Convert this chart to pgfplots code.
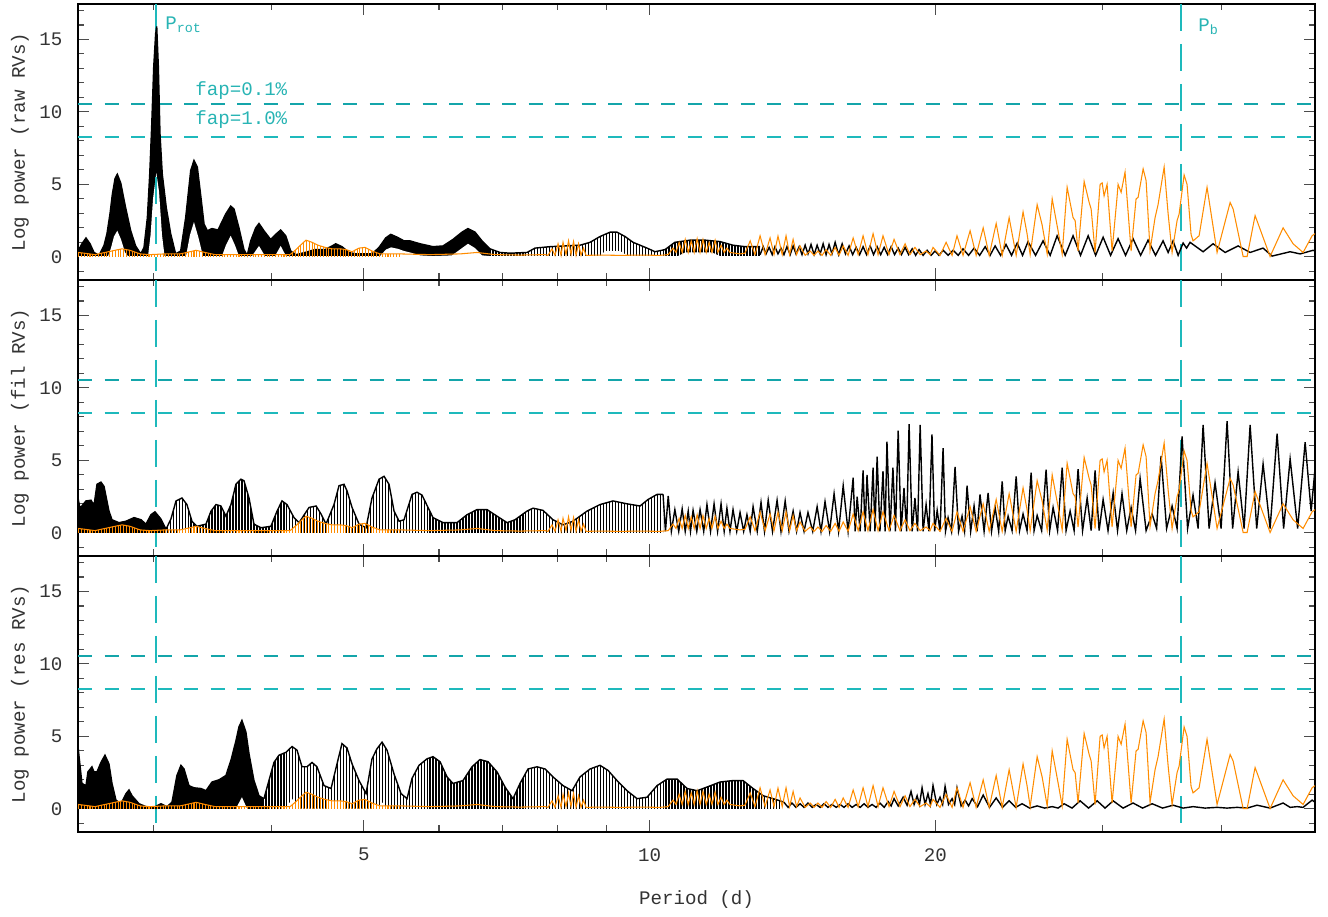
\documentclass[border=0pt]{standalone}
\usepackage{fontspec}
\setmainfont{Liberation Mono}
\usepackage{pgfplots}
\usepackage{pgfplotstable}
\pgfplotsset{compat=1.18}
\usetikzlibrary{patterns.meta}

\definecolor{ora}{RGB}{255,140,0}
\definecolor{fapdark}{RGB}{20,165,170}
\definecolor{faplight}{RGB}{30,185,188}
\definecolor{labcyan}{RGB}{40,180,180}
\newcommand{\pf}{\fontsize{10.9}{13}\selectfont}

% ---- orange periodogram (same in all three panels)
\pgfplotstableread{
x y
2.500 0.3
2.537 0.25
2.605 0.15
2.669 0.3
2.735 0.45
2.782 0.55
2.836 0.45
2.906 0.2
2.977 0.15
3.087 0.2
3.202 0.2
3.280 0.35
3.328 0.45
3.402 0.3
3.485 0.15
3.794 0.15
4.181 0.15
4.242 0.5
4.304 0.9
4.346 1.15
4.410 1.0
4.474 0.8
4.551 0.65
4.629 0.55
4.719 0.55
4.789 0.5
4.859 0.35
4.942 0.6
5.015 0.65
5.100 0.4
5.200 0.2
5.459 0.2
}\oBandHi
\pgfplotstableread{
x y
5.459 0.2
5.871 0.15
6.314 0.2
6.579 0.3
6.873 0.15
7.303 0.12
7.759 0.15
7.816 0.1
7.892 0.55
7.949 0.1
8.008 0.9
8.066 0.1
8.105 1.0
8.164 0.15
8.214 1.1
8.264 0.15
8.314 1.05
8.365 0.1
8.416 0.9
8.467 0.1
8.518 0.6
8.570 0.1
8.866 0.12
9.307 0.1
9.769 0.12
10.25 0.1
10.46 0.15
10.58 0.6
10.66 0.3
10.74 1.0
10.82 0.3
10.90 1.2
10.98 0.3
11.06 1.1
11.14 0.3
11.22 1.25
11.30 0.3
11.38 1.2
11.47 0.3
11.55 1.0
11.63 0.3
11.72 1.15
11.80 0.3
11.89 0.8
11.98 0.3
12.06 0.6
12.15 0.3
12.45 0.2
12.60 0.25
12.76 1.1
12.91 0.15
13.07 1.45
13.23 0.15
13.39 1.3
13.52 0.15
13.65 1.43
13.79 0.15
13.92 1.45
14.04 0.15
14.16 1.2
14.28 0.15
14.40 0.75
14.58 0.1
14.76 0.4
14.90 0.1
15.04 0.4
15.19 0.1
15.34 0.5
15.51 0.1
15.68 0.65
15.83 0.1
15.99 0.75
16.18 0.1
16.38 1.3
16.58 0.15
16.78 1.45
16.98 0.15
17.19 1.6
17.40 0.15
17.61 1.45
17.87 0.15
18.09 1.2
18.35 0.15
18.58 0.9
18.80 0.15
19.03 0.65
19.27 0.15
19.55 0.4
19.74 0.15
19.88 0.65
20.22 0.1
20.52 1.0
20.82 0.1
21.07 1.45
21.38 0.1
21.75 1.8
22.07 0.1
22.45 2.0
22.78 0.1
23.17 2.3
23.51 0.1
23.91 2.7
24.32 0.1
24.73 3.1
24.97 1.6
25.16 0.15
25.59 3.6
25.90 2.2
26.22 0.2
26.54 4.0
26.92 1.8
27.19 0.2
27.52 4.8
27.92 2.7
28.06 2.5
28.26 0.4
28.68 5.2
29.03 3.75
29.17 3.3
29.45 0.3
29.81 5.0
29.96 5.1
30.10 4.2
30.32 5.0
30.69 0.4
31.06 4.1
31.14 5.0
31.37 4.45
31.67 5.85
32.14 0.4
32.53 4.0
32.69 4.1
33.09 6.07
33.33 5.25
33.65 0.45
34.06 2.7
34.31 3.6
34.82 6.2
35.16 2.95
35.50 0.3
35.93 2.5
36.11 2.95
36.55 5.65
36.81 5.0
37.17 1.55
37.35 1.1
37.90 1.45
38.64 4.8
39.59 0.3
40.86 3.75
41.16 3.3
42.17 0.02
42.58 0.02
43.41 2.85
45.02 0.02
46.46 2.0
47.60 0.9
48.77 0.3
49.85 1.45
50.20 1.6
}\oLine

% ---- panel 1 (raw RVs), black: upper envelope of the unresolved part, its gaps, resolved part
\pgfplotstableread{
x y
2.500 0.4
2.524 0.9
2.549 1.3
2.574 0.9
2.599 0.3
2.631 0.1
2.663 0.8
2.682 1.6
2.702 3.0
2.717 4.3
2.735 5.4
2.750 5.7
2.773 5.1
2.806 3.4
2.841 1.8
2.875 0.75
2.911 0.2
2.934 0.65
2.958 2.7
2.975 5.7
2.989 9.0
3.004 13.1
3.018 15.4
3.026 15.9
3.038 13.1
3.050 8.5
3.067 5.7
3.097 3.4
3.130 1.6
3.168 0.2
3.207 0.4
3.246 2.7
3.286 5.95
3.312 6.65
3.339 6.2
3.366 4.3
3.394 2.25
3.421 1.8
3.460 1.95
3.511 1.85
3.577 2.95
3.621 3.5
3.650 3.3
3.694 2.0
3.739 0.5
3.769 0.1
3.801 1.1
3.847 2.0
3.878 2.3
3.925 1.8
3.989 1.2
4.038 1.55
4.087 1.85
4.137 1.45
4.188 0.4
4.242 0.15
4.335 0.3
4.442 0.5
4.551 0.5
4.629 0.75
4.670 0.9
4.742 0.7
4.824 0.3
4.906 0.2
5.100 0.2
5.188 0.65
5.272 1.3
5.337 1.55
5.423 1.35
5.512 1.1
5.593 1.1
5.730 0.9
5.913 0.7
6.059 0.75
6.207 1.2
6.344 1.7
6.437 1.95
6.548 1.7
6.660 1.1
6.790 0.55
}\bOneHi
\pgfplotstableread{
x y
2.500 0.05
2.689 0.05
2.708 0.6
2.728 1.4
2.750 1.8
2.775 1.2
2.802 0.3
2.822 0.05
2.963 0.05
2.981 1.5
2.999 4.0
3.023 5.8
3.043 4.5
3.065 1.5
3.084 0.05
3.249 0.05
3.280 1.5
3.312 2.4
3.349 1.3
3.385 0.05
3.545 0.05
3.579 0.8
3.621 1.45
3.658 0.8
3.694 0.05
3.812 0.05
3.878 0.75
3.935 0.05
4.031 0.05
4.087 0.75
4.140 0.05
5.200 0.05
5.276 0.5
5.341 0.65
5.432 0.55
5.512 0.4
5.593 0.3
5.730 0.1
5.913 0.05
6.192 0.1
6.344 0.6
6.437 0.9
6.548 0.6
6.660 0.1
6.790 0.05
}\bOneLo
\pgfplotstableread{
x y
6.790 0.55
6.957 0.3
7.128 0.25
7.428 0.3
7.573 0.6
7.854 0.7
8.145 0.75
8.446 0.8
8.654 1.0
8.866 1.4
9.084 1.7
9.239 1.7
9.420 1.4
9.605 1.0
9.937 0.6
10.13 0.35
10.38 0.5
10.63 1.0
11.03 1.15
11.44 1.15
11.86 1.05
12.24 0.8
12.60 0.7
13.07 0.7
}\gOneHi
\pgfplotstableread{
x y
6.790 0.05
8.866 0.05
8.974 0.4
9.307 0.4
9.489 0.05
10.71 0.05
10.90 0.3
11.63 0.3
11.86 0.05
13.07 0.05
}\gOneLo
\pgfplotstableread{
x y
13.07 0.15
13.17 0.7
13.26 0.2
13.36 0.65
13.46 0.15
13.55 0.7
13.65 0.2
13.75 0.6
13.85 0.15
13.95 0.7
14.06 0.15
14.16 0.75
14.26 0.2
14.37 0.7
14.47 0.15
14.58 0.8
14.68 0.2
14.79 0.85
14.90 0.15
15.01 0.8
15.12 0.2
15.23 0.9
15.34 0.15
15.45 0.85
15.56 0.2
15.68 1.0
15.81 0.15
15.95 0.9
16.08 0.2
16.22 0.75
16.36 0.15
16.50 0.65
16.64 0.15
16.78 0.7
16.92 0.15
17.07 0.75
17.21 0.15
17.36 0.7
17.51 0.15
17.66 0.65
17.81 0.15
17.96 0.7
18.11 0.15
18.27 0.6
18.42 0.15
18.58 0.65
18.74 0.15
18.90 0.55
19.06 0.1
19.22 0.5
19.41 0.1
19.60 0.45
19.79 0.1
19.98 0.4
20.17 0.1
20.37 0.45
20.62 0.1
20.87 0.45
21.13 0.1
21.38 0.55
21.67 0.1
21.96 0.6
22.26 0.1
22.56 0.7
22.83 0.1
23.11 0.75
23.42 0.1
23.73 0.85
24.05 0.1
24.38 0.95
24.70 0.1
25.03 1.05
25.49 0.1
25.96 1.1
26.41 0.1
26.86 1.45
27.39 0.1
27.92 1.45
28.43 0.1
28.96 1.45
29.49 0.1
30.03 1.35
30.58 0.1
31.14 1.25
31.71 0.1
32.29 1.25
32.89 0.1
33.49 1.15
34.10 0.1
34.73 1.1
35.16 0.3
35.58 1.1
36.02 0.1
36.46 0.95
36.77 0.6
37.08 1.0
38.27 0.35
39.21 0.9
40.37 0.3
41.66 0.75
42.89 0.3
44.26 0.6
45.24 0.05
47.26 0.35
48.42 0.2
49.97 0.45
50.20 0.4
}\bOneLine

% ---- panel 2 (fil RVs), black
\pgfplotstableread{
x y
2.500 2.4
2.512 1.7
2.549 2.2
2.580 2.25
2.599 1.9
2.618 3.35
2.643 3.5
2.663 3.2
2.695 1.5
2.715 0.9
2.761 0.7
2.809 0.8
2.864 1.05
2.913 0.9
2.948 0.6
2.984 1.25
3.013 1.45
3.057 0.95
3.095 0.25
}\bTwoHi
\pgfplotstableread{
x y
3.095 0.25
3.132 0.95
3.171 2.2
3.217 2.4
3.256 1.95
3.296 0.8
3.336 0.45
3.410 0.6
3.452 1.5
3.494 1.95
3.536 1.85
3.579 1.15
3.623 1.95
3.667 3.35
3.712 3.7
3.739 3.6
3.785 2.4
3.831 0.6
3.897 0.35
3.992 0.45
4.051 1.5
4.100 2.2
4.150 1.95
4.221 1.05
4.273 0.7
4.378 1.75
4.453 1.85
4.507 1.3
4.562 0.6
4.651 1.95
4.708 3.25
4.765 3.35
4.800 2.9
4.859 1.75
4.942 0.6
5.027 0.35
5.100 2.4
5.188 3.7
5.251 3.9
5.315 3.35
5.380 1.5
5.446 0.8
5.512 0.9
5.620 2.65
5.688 2.8
5.758 2.6
5.842 1.75
5.913 1.05
6.059 0.7
6.268 0.7
6.422 1.25
6.579 1.6
6.741 1.6
6.906 1.15
7.076 0.7
7.215 0.9
7.428 1.5
7.536 1.7
7.721 1.55
7.911 0.9
8.105 0.55
8.304 0.8
8.591 1.5
8.866 1.95
9.150 2.2
9.466 2.0
9.769 1.85
9.961 2.3
10.18 2.65
10.33 2.65
}\gTwoHi
\pgfplotstableread{
x y
10.33 2.65
10.39 0.1
10.46 2.55
10.54 0.1
10.63 1.6
10.73 0.1
10.82 1.65
10.90 0.1
10.98 1.5
11.04 0.1
11.11 1.55
11.21 0.1
11.30 1.6
11.40 0.1
11.49 1.95
11.59 0.1
11.69 2.0
11.79 0.1
11.89 2.0
11.98 0.1
12.06 1.7
12.15 0.1
12.24 1.6
12.35 0.1
12.45 1.4
12.56 0.1
12.66 1.25
12.76 0.1
12.85 1.8
12.98 0.1
13.10 2.1
13.21 0.1
13.33 2.25
13.47 0.1
13.62 2.25
13.75 0.1
13.89 2.2
14.02 0.1
14.16 1.5
14.28 0.1
14.40 1.4
14.54 0.1
14.68 1.4
14.85 0.1
15.01 1.8
15.15 0.1
15.30 2.15
15.47 0.1
15.64 2.7
15.81 0.1
15.99 3.25
16.18 0.1
16.38 3.8
16.46 0.1
16.54 2.5
16.66 0.1
16.78 4.3
16.86 0.1
16.94 4.0
17.07 0.1
17.19 4.5
17.27 0.1
17.36 5.25
17.48 0.1
17.61 4.25
17.70 0.1
17.78 6.3
17.91 0.1
18.04 4.5
18.15 0.1
18.27 7.05
18.40 0.1
18.53 3.1
18.65 0.1
18.76 7.5
18.90 0.1
19.03 2.4
19.15 0.1
19.27 7.45
19.41 0.1
19.55 1.95
19.69 0.1
19.83 6.8
19.96 0.1
20.08 1.55
20.22 0.1
20.37 5.85
20.49 0.1
20.62 1.05
20.79 0.1
20.97 4.55
21.15 0.1
21.33 1.15
21.46 0.1
21.59 3.25
21.78 0.1
21.96 1.85
22.12 0.1
22.28 2.65
22.50 0.1
22.72 2.75
22.91 0.1
23.11 1.75
23.31 0.1
23.51 3.55
23.68 0.15
23.85 1.15
24.08 0.15
24.32 3.9
24.52 0.15
24.73 1.3
24.97 0.15
25.22 4.15
25.40 0.15
25.59 1.2
25.87 0.15
26.15 4.35
26.38 0.15
26.60 1.75
26.89 0.15
27.19 4.5
27.45 0.15
27.72 1.5
27.99 0.15
28.26 4.4
28.57 0.15
28.89 2.4
29.17 0.15
29.45 4.3
29.74 0.15
30.03 2.3
30.39 0.15
30.77 2.75
31.10 0.15
31.44 2.7
31.80 0.15
32.14 1.75
32.49 0.15
32.85 3.75
33.33 0.15
33.82 1.3
34.19 0.3
34.56 5.3
35.03 0.3
35.50 1.85
35.93 0.3
36.37 6.65
36.86 0.3
37.35 2.6
37.81 0.3
38.27 7.45
38.83 0.3
39.40 3.45
39.98 0.3
40.56 7.7
41.11 0.3
41.66 4.2
42.27 0.3
42.89 7.45
43.58 0.3
44.26 4.75
45.02 0.3
45.79 6.85
46.52 0.3
47.26 5.1
48.13 0.3
49.01 6.25
49.73 1.5
50.20 4.4
}\bTwoLine

% ---- panel 3 (res RVs), black
\pgfplotstableread{
x y
2.500 4.3
2.524 1.75
2.549 1.6
2.561 2.55
2.586 2.9
2.599 2.55
2.618 2.55
2.643 3.2
2.669 3.7
2.695 3.1
2.715 1.75
2.741 0.6
2.775 0.35
2.809 1.05
2.829 1.3
2.850 0.9
2.899 0.35
2.948 0.15
3.006 0.1
3.057 0.35
3.102 0.15
3.140 0.45
3.178 2.3
3.209 3.0
3.233 2.75
3.272 1.6
3.312 1.45
3.369 1.4
3.410 1.25
3.460 1.85
3.519 2.0
3.579 2.3
3.623 3.35
3.667 4.7
3.694 5.65
3.721 6.1
3.757 5.3
3.785 3.8
3.831 1.95
3.878 0.9
3.925 0.7
}\bThreeHi
\pgfplotstableread{
x y
3.667 0.02
3.721 0.8
3.767 0.02
}\bThreeLo
\pgfplotstableread{
x y
3.925 0.7
3.973 1.95
4.021 3.2
4.070 3.7
4.140 3.9
4.201 4.3
4.252 4.05
4.304 2.9
4.356 2.9
4.410 3.2
4.463 2.9
4.540 1.6
4.618 1.4
4.685 3.1
4.742 4.5
4.800 4.2
4.859 3.1
4.942 1.95
5.027 1.05
5.100 3.45
5.163 4.15
5.226 4.6
5.289 4.05
5.380 2.4
5.472 1.05
5.552 0.7
5.620 2.1
5.716 3.0
5.828 3.45
5.913 3.6
6.015 3.25
6.118 2.2
6.207 1.75
6.360 1.95
6.500 2.9
6.627 3.4
6.757 3.25
6.906 2.55
7.042 1.5
7.180 0.7
7.303 1.75
7.446 2.75
7.610 2.9
7.759 2.75
7.911 2.2
8.105 1.6
8.284 1.25
8.446 2.2
8.654 2.75
8.866 3.0
9.040 2.65
9.239 1.95
9.466 1.25
9.698 0.7
9.937 0.8
10.18 1.6
10.43 2.05
10.69 2.05
10.95 1.4
11.22 1.25
11.49 1.5
11.86 1.85
12.24 1.95
12.54 1.95
12.85 1.4
13.17 0.9
13.49 0.7
13.72 0.55
}\gThreeHi
\pgfplotstableread{
x y
4.140 0.02
4.201 0.7
4.262 0.02
5.163 0.02
5.226 0.45
5.289 0.02
}\gThreeLo
\pgfplotstableread{
x y
13.72 0.55
13.85 0.45
13.99 0.1
14.12 0.4
14.26 0.1
14.40 0.35
14.54 0.1
14.68 0.4
14.83 0.1
14.97 0.3
15.12 0.1
15.26 0.35
15.41 0.1
15.56 0.3
15.72 0.1
15.87 0.3
16.02 0.1
16.18 0.35
16.34 0.1
16.50 0.3
16.66 0.1
16.82 0.35
16.98 0.1
17.15 0.3
17.32 0.1
17.48 0.4
17.66 0.1
17.83 0.5
17.96 0.2
18.09 0.7
18.27 0.2
18.49 0.8
18.67 0.25
18.85 1.2
18.99 0.3
19.13 0.9
19.24 0.3
19.36 1.45
19.50 0.3
19.64 1.05
19.76 0.3
19.88 1.6
20.06 0.3
20.22 0.8
20.35 0.3
20.47 1.55
20.64 0.3
20.82 0.7
20.95 0.3
21.07 1.45
21.28 0.2
21.49 0.6
21.67 0.2
21.86 0.7
22.15 0.15
22.45 0.95
22.80 0.1
23.17 0.75
23.53 0.1
23.91 0.55
24.29 0.1
24.67 0.35
25.13 0.05
25.59 0.2
26.06 0.05
26.54 0.15
26.92 0.05
27.32 0.35
27.85 0.05
28.40 0.55
28.99 0.05
29.60 0.55
30.17 0.05
30.77 0.55
31.52 0.05
32.29 0.4
33.05 0.05
33.82 0.35
34.69 0.05
35.58 0.25
36.46 0.05
37.35 0.15
38.46 0.05
39.59 0.1
40.56 0.05
41.56 0.1
42.58 0.05
43.62 0.25
45.02 0.05
46.46 0.4
47.26 0.1
48.07 0.15
48.77 0.1
49.85 0.6
50.20 0.45
}\bThreeLine

\pgfplotsset{
  every axis/.append style={
    xmode=log, xmin=2.5, xmax=50.2, ymin=-1.6, ymax=17.45,
    scale only axis, width=247.4mm, height=55.2mm,
    xtick={5,10,20}, minor xtick={3,4,6,7,8,9,30,40}, xticklabels={},
    ytick={0,5,10,15}, yticklabels={0,5,10,15},
    minor ytick={-1,1,2,3,4,6,7,8,9,11,12,13,14,16,17},
    major tick length=2.3mm, minor tick length=1.3mm,
    every tick/.style={black!70, line width=0.6pt},
    axis line style={line width=0.8pt},
    tick label style={font=\pf, text=black!80},
    yticklabel style={xshift=-1.9mm},
    ylabel style={font=\pf, text=black!80, at={(axis description cs:-0.047,0.5)}, anchor=center},
  },
  faphi/.style={draw=fapdark, line width=1.1pt, dash pattern=on 2.8mm off 2.5mm},
  faplo/.style={draw=faplight, line width=1.1pt, dash pattern=on 2.8mm off 2.5mm},
  vline/.style={draw=faplight, line width=1.1pt, dash pattern=on 5.4mm off 2.6mm},
  blk/.style={draw=black, line width=0.8pt},
  org/.style={draw=ora, line width=0.6pt},
  stripes/.style={draw=none, pattern={Lines[angle=90, distance=1.7pt, line width=0.8pt]}, pattern color=black},
  ostripes/.style={draw=none, pattern={Lines[angle=90, distance=1.6pt, line width=0.6pt]}, pattern color=ora},
}

\begin{document}
\begin{tikzpicture}
\path[use as bounding box] (-15.6mm,-17mm) rectangle (250mm,166.4mm);

% ================= panel 1
\begin{axis}[at={(0,110.4mm)}, ylabel={Log power (raw RVs)}]
  \addplot[faphi] coordinates {(2.5,10.55) (50.2,10.55)};
  \addplot[faplo] coordinates {(2.5,8.25) (50.2,8.25)};
  \addplot[vline] coordinates {(3.02,17.45) (3.02,-1.6)};
  \addplot[vline] coordinates {(36.3,17.45) (36.3,-1.6)};
  \addplot[fill=black, draw=none] table {\bOneHi} \closedcycle;
  \addplot[fill=white, draw=none] table {\bOneLo} \closedcycle;
  \addplot[blk] table {\bOneHi};
  \addplot[stripes] table {\gOneHi} \closedcycle;
  \addplot[fill=white, draw=none] table {\gOneLo} \closedcycle;
  \addplot[blk] table {\gOneHi};
  \addplot[blk] table {\bOneLine};
  \addplot[vline] coordinates {(3.02,5.5) (3.02,0.1)};
  \addplot[ostripes] table {\oBandHi} \closedcycle;
  \addplot[org] table {\oBandHi};
  \addplot[org] table {\oLine};
  \node[anchor=west, inner sep=0, text=labcyan, font=\pf] at (axis cs:3.087,16.0) {P\textsubscript{rot}};
  \node[anchor=west, inner sep=0, text=labcyan, font=\pf] at (axis cs:3.32,11.49) {fap=0.1\%};
  \node[anchor=west, inner sep=0, text=labcyan, font=\pf] at (axis cs:3.32,9.48) {fap=1.0\%};
  \node[anchor=west, inner sep=0, text=labcyan, font=\pf] at (axis cs:37.81,15.9) {P\textsubscript{b}};
\end{axis}

% ================= panel 2
\begin{axis}[at={(0,55.2mm)}, ylabel={Log power (fil RVs)}]
  \addplot[faphi] coordinates {(2.5,10.55) (50.2,10.55)};
  \addplot[faplo] coordinates {(2.5,8.25) (50.2,8.25)};
  \addplot[vline] coordinates {(3.02,17.45) (3.02,-1.6)};
  \addplot[vline] coordinates {(36.3,17.45) (36.3,-1.6)};
  \addplot[fill=black, draw=none] table {\bTwoHi} \closedcycle;
  \addplot[blk] table {\bTwoHi};
  \addplot[stripes] table {\gTwoHi} \closedcycle;
  \addplot[blk] table {\gTwoHi};
  \addplot[blk] table {\bTwoLine};
  \addplot[ostripes] table {\oBandHi} \closedcycle;
  \addplot[org] table {\oBandHi};
  \addplot[org] table {\oLine};
\end{axis}

% ================= panel 3
\begin{axis}[at={(0,0)}, ylabel={Log power (res RVs)},
    xticklabels={5,10,20}, xticklabel style={yshift=-2mm},
    xlabel={Period (d)},
    xlabel style={font=\pf, text=black!80, at={(axis description cs:0.5,0)}, anchor=center, yshift=-13.6mm}]
  \addplot[faphi] coordinates {(2.5,10.55) (50.2,10.55)};
  \addplot[faplo] coordinates {(2.5,8.25) (50.2,8.25)};
  \addplot[vline] coordinates {(3.02,17.45) (3.02,-1.6)};
  \addplot[vline] coordinates {(36.3,17.45) (36.3,-1.6)};
  \addplot[fill=black, draw=none] table {\bThreeHi} \closedcycle;
  \addplot[fill=white, draw=none] table {\bThreeLo} \closedcycle;
  \addplot[blk] table {\bThreeHi};
  \addplot[stripes] table {\gThreeHi} \closedcycle;
  \addplot[fill=white, draw=none] table {\gThreeLo} \closedcycle;
  \addplot[blk] table {\gThreeHi};
  \addplot[blk] table {\bThreeLine};
  \addplot[ostripes] table {\oBandHi} \closedcycle;
  \addplot[org] table {\oBandHi};
  \addplot[org] table {\oLine};
\end{axis}
\end{tikzpicture}
\end{document}
